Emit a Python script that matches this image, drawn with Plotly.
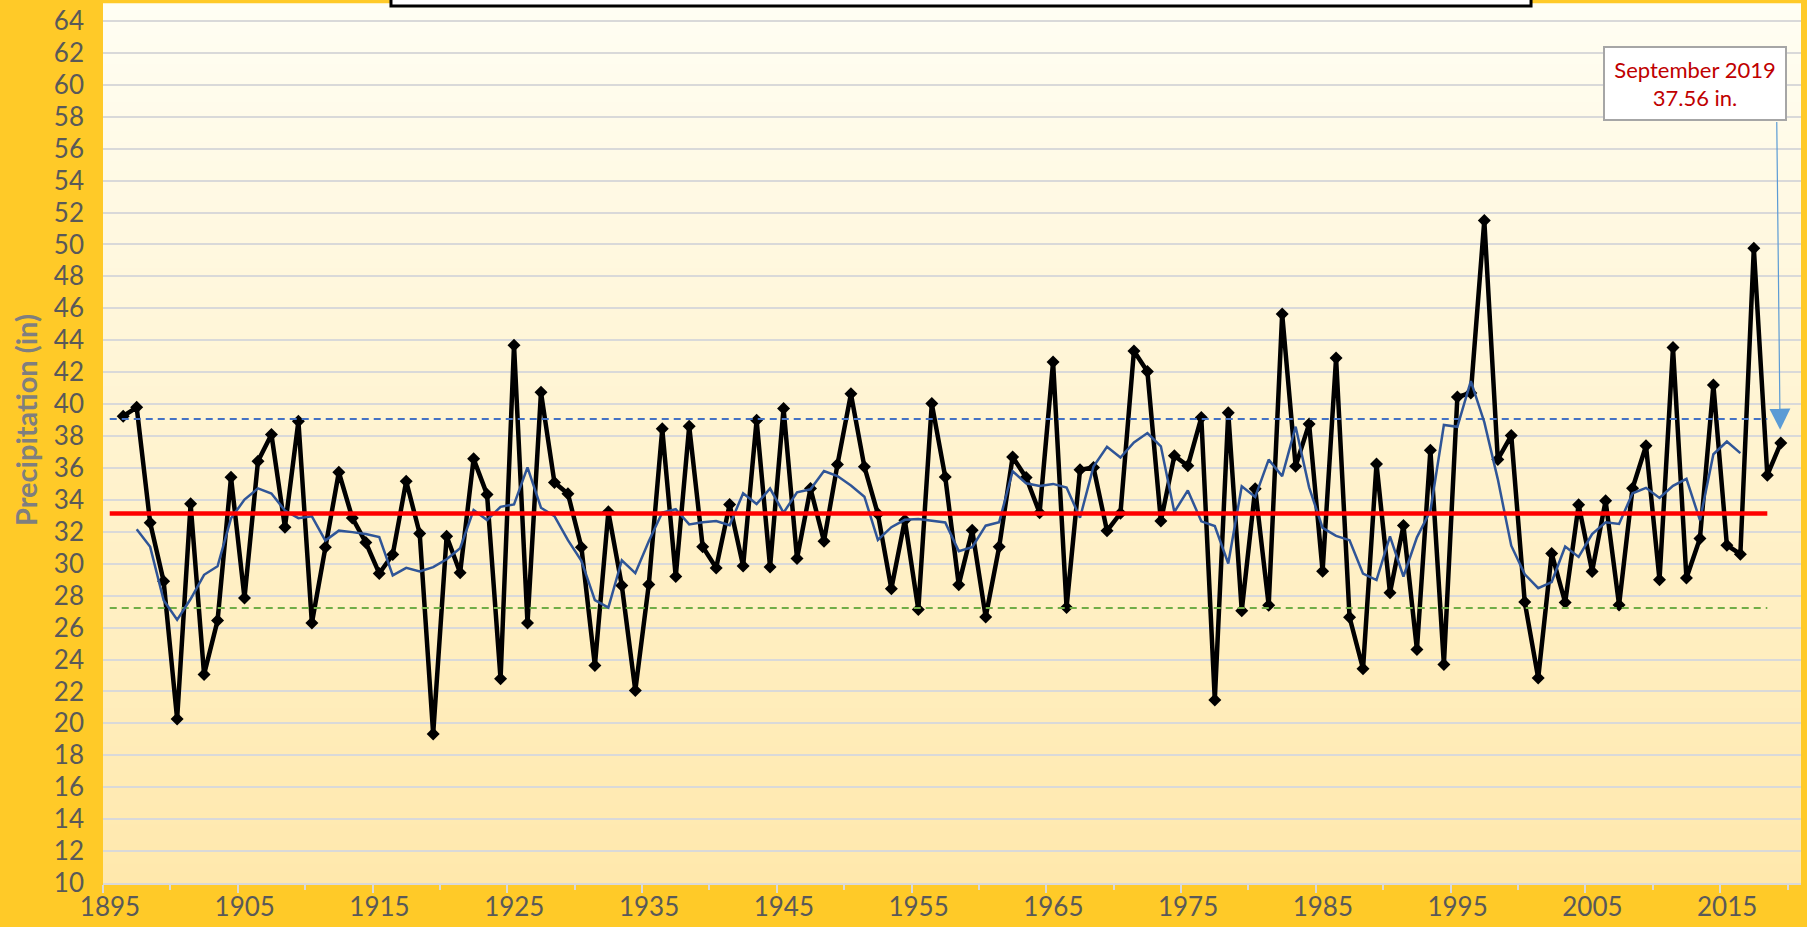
import numpy as np
import pandas as pd
import plotly.graph_objects as go

# ---------------- data ----------------
years = list(range(1896, 2020))
precip = [
    39.24, 39.80, 32.56, 28.90, 20.28, 33.75, 23.06, 26.44, 35.42, 27.86,   # 1896-1905
    36.42, 38.09, 32.29, 38.93, 26.28, 31.04, 35.73, 32.87, 31.33, 29.39,   # 1906-1915
    30.58, 35.17, 31.89, 19.34, 31.72, 29.43, 36.57, 34.33, 22.79, 43.69,   # 1916-1925
    26.28, 40.74, 35.09, 34.38, 31.04, 23.62, 33.25, 28.63, 22.06, 28.70,   # 1926-1935
    38.45, 29.20, 38.61, 31.06, 29.74, 33.71, 29.85, 38.99, 29.80, 39.72,   # 1936-1945
    30.33, 34.71, 31.41, 36.21, 40.64, 36.07, 33.12, 28.43, 32.73, 27.13,   # 1946-1955
    40.03, 35.43, 28.69, 32.10, 26.67, 31.06, 36.69, 35.40, 33.19, 42.64,   # 1956-1965
    27.26, 35.88, 36.03, 32.06, 33.16, 43.33, 42.04, 32.68, 36.76, 36.13,   # 1966-1975
    39.16, 21.47, 39.45, 27.06, 34.69, 27.40, 45.65, 36.11, 38.76, 29.53,   # 1976-1985
    42.88, 26.65, 23.42, 36.25, 28.18, 32.39, 24.63, 37.11, 23.69, 40.45,   # 1986-1995
    40.70, 51.50, 36.53, 38.03, 27.60, 22.84, 30.64, 27.57, 33.69, 29.52,   # 1996-2005
    33.94, 27.41, 34.73, 37.39, 29.00, 43.54, 29.10, 31.58, 41.19, 31.16,   # 2006-2015
    30.60, 49.77, 35.55, 37.56,                                             # 2016-2019
]

mean_value = 33.14      # red line
plus_sd_value = 39.07   # blue dashed line
minus_sd_value = 27.22  # green dashed line
ref_line_years = [1895, 2018]

tick_years = [1895, 1905, 1915, 1925, 1935, 1945, 1955, 1965, 1975, 1985, 1995, 2005, 2015]
minor_tick_years = [1900, 1910, 1920, 1930, 1940, 1950, 1960, 1970, 1980, 1990, 2000, 2010, 2020]
y_ticks = list(range(10, 65, 2))

note_text = "September 2019<br>37.56 in."
note_tip = (2018.95, 38.4)
note_tail = (2018.7, 57.76)

# 5-year moving average (as drawn in the reference, shown one year left of its centre)
s = pd.Series(precip, index=years)
ma = s.rolling(5, center=True).mean().dropna()
ma_x = [y - 1 for y in ma.index]
ma_y = ma.values.tolist()

# ---------------- figure ----------------
fig = go.Figure()

fig.add_trace(go.Scatter(
    x=years, y=precip, mode="lines+markers",
    line=dict(color="black", width=4.5),
    marker=dict(symbol="diamond", size=10, color="black"),
    showlegend=False, hoverinfo="x+y"))

fig.add_trace(go.Scatter(
    x=ref_line_years, y=[plus_sd_value] * 2, mode="lines",
    line=dict(color="#4472C4", width=2, dash="7px,5px"), showlegend=False))
fig.add_trace(go.Scatter(
    x=ref_line_years, y=[minus_sd_value] * 2, mode="lines",
    line=dict(color="#70AD47", width=2, dash="7px,5px"), showlegend=False))

fig.add_trace(go.Scatter(
    x=ma_x, y=ma_y, mode="lines",
    line=dict(color="#2F5597", width=2.5), showlegend=False))

fig.add_trace(go.Scatter(
    x=ref_line_years, y=[mean_value] * 2, mode="lines",
    line=dict(color="#FF0000", width=4.5), showlegend=False))

# gradient plot background
shapes = []
top = np.array([255, 254, 243])
bot = np.array([255, 232, 172])
N = 90
for i in range(N):
    t = (i + 0.5) / N  # 0 bottom -> 1 top
    c = bot + (top - bot) * t
    shapes.append(dict(type="rect", xref="paper", yref="paper",
                       x0=0, x1=1, y0=i / N, y1=(i + 1) / N + 0.002,
                       fillcolor="rgb(%d,%d,%d)" % tuple(c.round().astype(int)),
                       line=dict(width=0), layer="below"))
# title box (cut off at top)
shapes.append(dict(type="rect", xref="paper", yref="paper",
                   x0=0.1696, x1=0.841, y0=0.9989, y1=1.2,
                   fillcolor="white", line=dict(color="black", width=3), layer="above"))

W, H = 1807, 927
fig.update_layout(
    width=W, height=H,
    margin=dict(l=103, r=6, t=5, b=44, autoexpand=False),
    paper_bgcolor="#FFCA28",
    plot_bgcolor="#FFF5D8",
    shapes=shapes,
    showlegend=False,
    font=dict(family="Lato", size=26, color="#595959"),
)

fig.update_xaxes(
    range=[1894.5, 2020.5], automargin=False,
    tickvals=[y - 0.5 for y in tick_years],
    ticktext=[str(y) for y in tick_years],
    showgrid=False, zeroline=False,
    showline=True, linecolor="#D9D9D9", linewidth=2,
    ticks="outside", ticklen=8, tickwidth=2, tickcolor="#D9D9D9",
    minor=dict(tickvals=[y - 0.5 for y in minor_tick_years], ticks="outside",
               ticklen=5, tickwidth=2, tickcolor="#D9D9D9"),
    tickfont=dict(family="Lato", size=26, color="#595959"),
    ticklabelshift=7, ticklabelstandoff=-8,
)
fig.update_yaxes(
    range=[10, 65], automargin=False,
    tickvals=y_ticks, ticktext=[str(v) for v in y_ticks],
    showgrid=True, gridcolor="#D9D9D9", gridwidth=1.6,
    zeroline=False, showline=False, ticks="",
    tickfont=dict(family="Lato", size=26, color="#595959"),
    ticklabelstandoff=18,
)

fig.add_annotation(
    text="<b>Precipitation (in)</b>", textangle=-90,
    xref="paper", yref="paper", x=-0.0455, y=0.527,
    xanchor="center", yanchor="middle", showarrow=False,
    font=dict(family="Lato", size=29, color="#7F7F7F"))

fig.add_annotation(
    text="", x=note_tip[0], y=note_tip[1], xref="x", yref="y",
    ax=note_tail[0], ay=note_tail[1], axref="x", ayref="y",
    showarrow=True, arrowhead=2, arrowsize=3.5, arrowwidth=1.2,
    arrowcolor="#5B9BD5", standoff=0)

fig.add_annotation(
    text=note_text, xref="paper", yref="paper", x=0.9376, y=0.9107,
    xanchor="center", yanchor="middle", showarrow=False,
    width=180, height=71, bgcolor="white", bordercolor="#A6A6A6",
    borderwidth=2, borderpad=0,
    font=dict(family="Lato", size=22, color="#C00000"))

fig.write_html("out.html", config={"displayModeBar": False},
               post_script="document.body.style.margin='0';document.body.style.overflow='hidden';")
